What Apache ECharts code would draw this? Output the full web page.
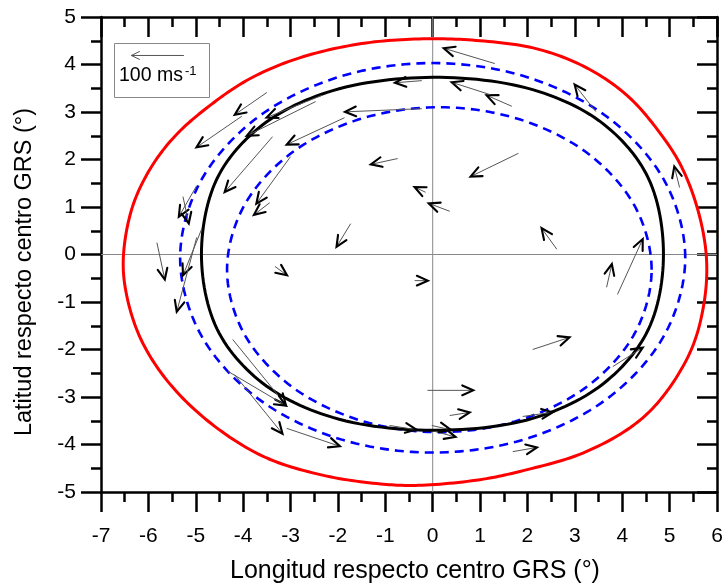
<!DOCTYPE html>
<html>
<head>
<meta charset="utf-8">
<script src="https://cdn.jsdelivr.net/npm/echarts@6/dist/echarts.min.js"></script>
<style>
  html, body { margin: 0; padding: 0; background: #fff; }
  #chart { width: 725px; height: 588px; }
</style>
</head>
<body>
<div id="chart"></div>
<script>
// Axis extents, degrees relative to the GRS centre
const lonRange = [-7, 6];
const latRange = [-5, 5];
const tickStep = 1;

// Closed contours, [longitude, latitude] vertices
const redContour = [
  [5.78, -0.12], [5.62, 0.85], [5.25, 1.85], [4.75, 2.62], [4.10, 3.35], [3.25, 3.93],
  [2.20, 4.33], [1.00, 4.50], [-0.20, 4.54], [-1.50, 4.44], [-2.81, 4.14], [-3.86, 3.70],
  [-4.75, 3.10], [-5.45, 2.48], [-5.97, 1.79], [-6.35, 0.96], [-6.53, -0.10], [-6.45, -0.90],
  [-6.15, -1.80], [-5.60, -2.66], [-4.75, -3.50], [-3.60, -4.24], [-2.35, -4.64], [-1.10, -4.83],
  [-0.30, -4.86], [1.00, -4.74], [1.91, -4.55], [3.17, -4.18], [4.23, -3.60], [4.85, -3.00],
  [5.45, -2.02], [5.72, -1.06]
];
const blackContour = [
  [4.87, 0.00], [4.55, 1.61], [3.60, 2.75], [2.11, 3.47], [0.00, 3.73], [-2.11, 3.45],
  [-3.60, 2.72], [-4.55, 1.60], [-4.88, 0.00], [-4.55, -1.57], [-3.60, -2.70], [-2.11, -3.43],
  [0.00, -3.70], [2.11, -3.45], [3.60, -2.72], [4.55, -1.58]
];
const blueOuterContour = [
  [5.33, -0.07], [4.92, 1.50], [3.77, 2.83], [2.04, 3.72], [0.00, 4.03], [-2.04, 3.72],
  [-3.77, 2.83], [-4.92, 1.50], [-5.33, -0.07], [-4.92, -1.64], [-3.77, -2.97], [-2.04, -3.86],
  [0.00, -4.17], [2.04, -3.86], [3.77, -2.97], [4.92, -1.64]
];
const blueInnerContour = [
  [4.62, -0.32], [4.28, 0.99], [3.31, 2.10], [1.85, 2.84], [0.14, 3.10], [-1.57, 2.84],
  [-3.03, 2.10], [-4.00, 0.99], [-4.34, -0.32], [-4.00, -1.63], [-3.03, -2.74], [-1.57, -3.48],
  [0.14, -3.74], [1.85, -3.48], [3.31, -2.74], [4.28, -1.63]
];

// Wind vectors: tail position (deg) and velocity components (m/s)
const vecLon = [1.31, -0.23, 1.67, 1.20, -0.23, -1.86, -2.34, -2.47, -3.50, -4.03, -3.38, -3.00, -3.44,
  -4.98, -5.27, -5.82, -4.87, -4.98, -3.33, -1.73, -0.74, -0.15, 0.36, 1.81, 3.44, 5.21, 2.62, 3.67,
  3.90, 3.80, 2.11, -0.38, -0.11, 0.36, 1.90, 1.69, -0.91, 0.06, -0.02, -4.22, -4.32, -4.18, -3.08];
const vecLat = [4.02, 3.66, 3.12, 3.37, 3.07, 2.88, 3.35, 3.22, 3.41, 2.91, 2.48, 2.06, 1.09,
  1.45, 1.22, 0.25, 0.55, 0.36, -0.25, 0.65, 2.02, 1.31, 0.91, 2.13, 3.01, 1.41, 0.11, -0.69,
  -0.84, -2.36, -2.00, -0.55, -2.86, -3.39, -3.41, -4.15, -3.60, -3.73, -3.60, -1.79, -2.46, -2.53, -3.66];
const vecU = [-97, -51, -48, -72, -146, -110, -105, -131, -61, -86, -91, -65, -30,
  -34, 11, 15, -36, -38, 23, -27, -51, -21, -40, -91, -40, -10, -29, 10,
  48, 57, 70, 25, 87, 38, 57, 46, 51, 38, 36, 101, 110, 91, 101];
const vecV = [29, -4, 21, 23, -6, -51, -42, -65, -42, -59, -105, -89, -23,
  -59, -51, -70, -89, -141, -17, -44, -11, 10, 15, -44, 51, 40, 40, 44,
  105, 36, 23, 0, 0, 6, 8, 8, -8, -10, -8, -124, -65, -112, -34];

// Reference arrow: speed (m/s) and tail position (deg)
const refSpeed = 100;
const refTail = [-5.25, 4.19];
// Arrow length scale, degrees per m/s
const degPerMs = 0.0111;

const FONT = '"Liberation Sans", Arial, sans-serif';

const chart = echarts.init(document.getElementById('chart'), null, { renderer: 'canvas' });

function axisCommon(extra) {
  return Object.assign({
    type: 'value',
    interval: tickStep,
    splitLine: { show: false },
    axisLine: { show: true, onZero: false, lineStyle: { color: '#000', width: 2.5 } },
    axisTick: { show: true, length: 20, lineStyle: { color: '#000', width: 2.5 } },
    minorTick: { show: true, splitNumber: 2, length: 10, lineStyle: { color: '#000', width: 2.5 } },
    minorSplitLine: { show: false }
  }, extra);
}

// Closed centripetal Catmull-Rom spline through pixel points
function closedSpline(pts, steps) {
  const n = pts.length, out = [];
  const lerp = (a, b, ta, tb, t) => {
    const d = tb - ta;
    return [a[0] * (tb - t) / d + b[0] * (t - ta) / d, a[1] * (tb - t) / d + b[1] * (t - ta) / d];
  };
  const knot = (a, b) => Math.sqrt(Math.hypot(b[0] - a[0], b[1] - a[1])) || 1e-6;
  for (let i = 0; i < n; i++) {
    const P0 = pts[(i - 1 + n) % n], P1 = pts[i], P2 = pts[(i + 1) % n], P3 = pts[(i + 2) % n];
    const t0 = 0;
    const t1 = t0 + knot(P0, P1);
    const t2 = t1 + knot(P1, P2);
    const t3 = t2 + knot(P2, P3);
    for (let s = 0; s < steps; s++) {
      const t = t1 + (t2 - t1) * s / steps;
      const A1 = lerp(P0, P1, t0, t1, t);
      const A2 = lerp(P1, P2, t1, t2, t);
      const A3 = lerp(P2, P3, t2, t3, t);
      const B1 = lerp(A1, A2, t0, t2, t);
      const B2 = lerp(A2, A3, t1, t3, t);
      out.push(lerp(B1, B2, t1, t2, t));
    }
  }
  return out;
}

function contourSeries(points, color, width, dash) {
  return {
    type: 'custom',
    coordinateSystem: 'cartesian2d',
    data: points,
    encode: { x: 0, y: 1 },
    silent: true,
    z: 3,
    renderItem: function (params, api) {
      if (params.dataIndex !== 0) return null;
      const pts = closedSpline(points.map(p => api.coord(p)), 14);
      return {
        type: 'polygon',
        shape: { points: pts },
        style: { fill: null, stroke: color, lineWidth: width, lineDash: dash || null }
      };
    }
  };
}

function arrowShape(api, lon, lat, u, v, shaftColor, shaftWidth, headColor, headWidth, headLen, headHalf) {
  const p0 = api.coord([lon, lat]);
  const p1 = api.coord([lon + u * degPerMs, lat + v * degPerMs]);
  const ang = Math.atan2(p1[1] - p0[1], p1[0] - p0[0]);
  const w1 = [p1[0] - headLen * Math.cos(ang - headHalf), p1[1] - headLen * Math.sin(ang - headHalf)];
  const w2 = [p1[0] - headLen * Math.cos(ang + headHalf), p1[1] - headLen * Math.sin(ang + headHalf)];
  return {
    type: 'group',
    children: [
      { type: 'line', shape: { x1: p0[0], y1: p0[1], x2: p1[0], y2: p1[1] },
        style: { stroke: shaftColor, lineWidth: shaftWidth } },
      { type: 'polyline', shape: { points: [w1, p1, w2] },
        style: { stroke: headColor, lineWidth: headWidth, fill: null, lineJoin: 'miter', lineCap: 'round' } }
    ]
  };
}

const vectorData = vecLon.map((x, i) => [x, vecLat[i], vecU[i], vecV[i]]);

chart.setOption({
  backgroundColor: '#fff',
  animation: false,
  grid: { left: 101, right: 8, top: 17, bottom: 96, containLabel: false, outerBoundsMode: 'none' },
  xAxis: [
    axisCommon({
      min: lonRange[0], max: lonRange[1], position: 'bottom',
      axisLabel: { color: '#000', fontSize: 21, fontFamily: FONT, margin: 34 }
    }),
    axisCommon({
      min: lonRange[0], max: lonRange[1], position: 'top',
      axisTick: { show: true, inside: true, length: 20, lineStyle: { color: '#000', width: 2.5 } },
      axisLabel: { show: false }
    })
  ],
  yAxis: [
    axisCommon({
      min: latRange[0], max: latRange[1], position: 'left',
      axisLabel: { color: '#000', fontSize: 21, fontFamily: FONT, margin: 25 }
    }),
    axisCommon({
      min: latRange[0], max: latRange[1], position: 'right',
      axisTick: { show: true, inside: true, length: 20, lineStyle: { color: '#000', width: 2.5 } },
      axisLabel: { show: false }
    })
  ],
  series: [
    {
      type: 'line', data: [[0, latRange[0]], [0, latRange[1]]], symbol: 'none', silent: true,
      lineStyle: { color: '#888', width: 1 }, z: 1
    },
    {
      type: 'line', data: [[lonRange[0], 0], [lonRange[1], 0]], symbol: 'none', silent: true,
      lineStyle: { color: '#888', width: 1 }, z: 1
    },
    contourSeries(redContour, '#ff0000', 3),
    contourSeries(blueOuterContour, '#0000ff', 2.6, [9, 6]),
    contourSeries(blueInnerContour, '#0000ff', 2.6, [9, 6]),
    contourSeries(blackContour, '#000000', 3),
    {
      type: 'custom',
      coordinateSystem: 'cartesian2d',
      data: vectorData,
      encode: { x: 0, y: 1 },
      silent: true,
      z: 5,
      renderItem: function (params, api) {
        return arrowShape(api, api.value(0), api.value(1), api.value(2), api.value(3),
          '#555', 1, '#000', 2.1, 12, 0.42);
      }
    },
    {
      type: 'custom',
      coordinateSystem: 'cartesian2d',
      data: [[refTail[0], refTail[1], -refSpeed, 0]],
      encode: { x: 0, y: 1 },
      silent: true,
      z: 6,
      renderItem: function (params, api) {
        return arrowShape(api, api.value(0), api.value(1), api.value(2), api.value(3),
          '#555', 1, '#555', 1, 9, 0.45);
      }
    }
  ],
  graphic: [
    {
      type: 'rect', shape: { x: 114.5, y: 43.5, width: 95, height: 54 },
      style: { fill: '#fff', stroke: '#888', lineWidth: 1 }, z: 4
    },
    {
      type: 'text', x: 119, y: 75, scaleX: 0.93, z: 7,
      style: { text: '100 ms', font: '21px ' + FONT, fill: '#000', textAlign: 'left', textVerticalAlign: 'middle' }
    },
    {
      type: 'text', x: 185, y: 71, z: 7,
      style: { text: '-1', font: '13px ' + FONT, fill: '#000', textAlign: 'left', textVerticalAlign: 'middle' }
    },
    {
      type: 'text', x: 415, y: 571, z: 7,
      style: { text: 'Longitud respecto centro GRS (°)', font: '25px ' + FONT, fill: '#000',
        textAlign: 'center', textVerticalAlign: 'middle' }
    },
    {
      type: 'text', x: 25, y: 272, rotation: Math.PI / 2, z: 7,
      style: { text: 'Latitud respecto centro GRS (°)', font: '23.5px ' + FONT, fill: '#000',
        textAlign: 'center', textVerticalAlign: 'middle' }
    }
  ]
});
</script>
</body>
</html>
